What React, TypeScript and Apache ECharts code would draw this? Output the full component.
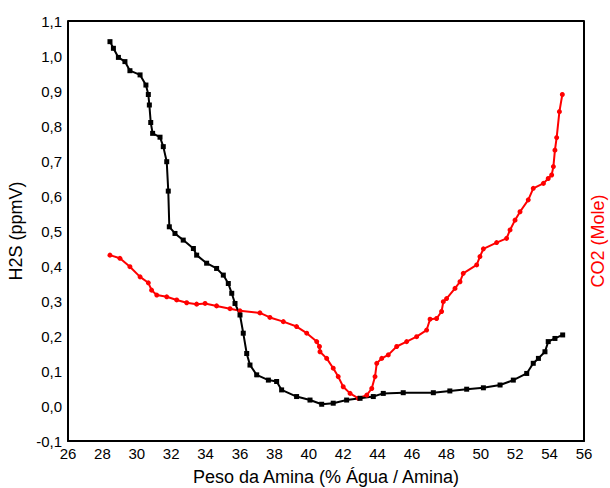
import React, { useEffect, useRef } from "react";
import * as echarts from "echarts";

const h2sX = [28.44, 28.64, 28.93, 29.31, 29.6, 30.19, 30.53, 30.67, 30.73, 30.81, 30.92, 31.35, 31.54, 31.74, 31.83, 31.89, 32.22, 32.7, 33.29, 33.48, 34.06, 34.64, 35.03, 35.32, 35.52, 35.71, 36.0, 36.19, 36.39, 36.58, 36.97, 37.65, 38.13, 38.42, 39.29, 40.07, 40.75, 41.42, 42.2, 42.98, 43.75, 44.33, 45.49, 47.24, 48.2, 49.18, 50.15, 51.12, 51.89, 52.67, 53.05, 53.35, 53.73, 53.92, 54.31, 54.76];
const h2sY = [1.041, 1.022, 0.996, 0.984, 0.958, 0.946, 0.917, 0.89, 0.86, 0.81, 0.779, 0.768, 0.741, 0.698, 0.614, 0.512, 0.493, 0.474, 0.45, 0.431, 0.408, 0.393, 0.374, 0.35, 0.322, 0.293, 0.26, 0.208, 0.15, 0.117, 0.089, 0.074, 0.07, 0.046, 0.027, 0.017, 0.005, 0.008, 0.017, 0.022, 0.027, 0.036, 0.038, 0.038, 0.043, 0.048, 0.052, 0.06, 0.074, 0.093, 0.122, 0.136, 0.155, 0.184, 0.193, 0.203];

const co2X = [28.44, 29.02, 29.6, 30.19, 30.67, 30.86, 31.16, 31.74, 32.32, 32.9, 33.48, 33.97, 34.64, 35.42, 36.0, 37.16, 37.74, 38.52, 39.29, 39.88, 40.46, 40.62, 40.65, 41.04, 41.42, 41.71, 42.0, 42.4, 42.88, 43.37, 43.66, 43.85, 43.95, 44.24, 44.62, 45.11, 45.69, 46.27, 46.85, 47.05, 47.43, 47.72, 47.82, 48.01, 48.5, 48.79, 48.98, 49.76, 49.95, 50.15, 50.92, 51.5, 51.7, 51.99, 52.28, 52.76, 53.05, 53.64, 53.92, 54.12, 54.22, 54.31, 54.41, 54.57, 54.74];
const co2Y = [0.431, 0.422, 0.398, 0.369, 0.352, 0.331, 0.317, 0.312, 0.303, 0.295, 0.291, 0.293, 0.286, 0.278, 0.272, 0.266, 0.253, 0.241, 0.227, 0.208, 0.184, 0.17, 0.155, 0.136, 0.108, 0.084, 0.055, 0.036, 0.022, 0.031, 0.05, 0.084, 0.122, 0.136, 0.146, 0.17, 0.184, 0.198, 0.217, 0.248, 0.25, 0.27, 0.298, 0.307, 0.336, 0.355, 0.379, 0.403, 0.427, 0.449, 0.467, 0.479, 0.503, 0.531, 0.555, 0.589, 0.622, 0.636, 0.65, 0.66, 0.684, 0.731, 0.767, 0.841, 0.89];

const xTitle = "Peso da Amina (% Água / Amina)";
const yTitle = "H2S (ppmV)";
const y2Title = "CO2 (Mole)";

const fmt = (v: number) => v.toFixed(1).replace(".", ",");
const FONT = "Liberation Sans, Arial, sans-serif";

export default function App() {
  const ref = useRef<HTMLDivElement>(null);
  useEffect(() => {
    document.body.style.margin = "0";
    document.body.style.overflow = "hidden";
    document.documentElement.style.overflow = "hidden";
    const chart = echarts.init(ref.current!, null, { renderer: "svg", width: 610, height: 488 });
    chart.setOption({
      animation: false,
      backgroundColor: "#ffffff",
      grid: { left: 68, right: 26, top: 21, bottom: 47, containLabel: false, outerBoundsMode: "none" },
      xAxis: {
        type: "value",
        min: 26,
        max: 56,
        interval: 2,
        name: xTitle,
        nameLocation: "middle",
        nameGap: 27,
        nameTextStyle: { fontSize: 18, fontFamily: FONT, color: "#000" },
        axisLine: { show: true, onZero: false, lineStyle: { color: "#000", width: 2 } },
        axisTick: { show: false },
        splitLine: { show: false },
        axisLabel: { fontSize: 15, fontFamily: FONT, color: "#000", margin: 5 },
      },
      yAxis: [
        {
          type: "value",
          min: -0.1,
          max: 1.1,
          interval: 0.1,
          name: yTitle,
          nameLocation: "middle",
          nameGap: 37,
          nameTextStyle: { fontSize: 18, fontFamily: FONT, color: "#000" },
          axisLine: { show: true, onZero: false, lineStyle: { color: "#000", width: 2 } },
          axisTick: { show: false },
          splitLine: { show: false },
          axisLabel: { fontSize: 15, fontFamily: FONT, color: "#000", margin: 6, formatter: fmt },
        },
        {
          type: "value",
          min: -0.1,
          max: 1.1,
          interval: 0.1,
          position: "right",
          axisLine: { show: true, onZero: false, lineStyle: { color: "#000", width: 2 } },
          axisTick: { show: false },
          splitLine: { show: false },
          axisLabel: { show: false },
        },
      ],
      graphic: [
        {
          type: "line",
          shape: { x1: 68, y1: 21, x2: 584, y2: 21 },
          style: { stroke: "#000", lineWidth: 2 },
        },
        {
          type: "line",
          shape: { x1: 584, y1: 21, x2: 584, y2: 441 },
          style: { stroke: "#000", lineWidth: 2 },
        },
        {
          type: "text",
          x: 598,
          y: 241,
          rotation: Math.PI / 2,
          style: {
            text: y2Title,
            fontSize: 18,
            fontFamily: FONT,
            fill: "#ff0000",
            align: "center",
            verticalAlign: "middle",
          },
        },
      ],
      series: [
        {
          type: "line",
          data: co2X.map((x, i) => [x, co2Y[i]]),
          color: "#ff0000",
          symbol: "circle",
          symbolSize: 5,
          lineStyle: { width: 2, color: "#ff0000" },
          itemStyle: { color: "#ff0000" },
        },
        {
          type: "line",
          data: h2sX.map((x, i) => [x, h2sY[i]]),
          color: "#000",
          symbol: "rect",
          symbolSize: 5,
          lineStyle: { width: 2, color: "#000" },
          itemStyle: { color: "#000" },
        },
      ],
    });
    return () => chart.dispose();
  }, []);
  return (
    <div
      ref={ref}
      style={{ position: "absolute", left: 0, top: 0, width: 610, height: 488, background: "#fff" }}
    />
  );
}
